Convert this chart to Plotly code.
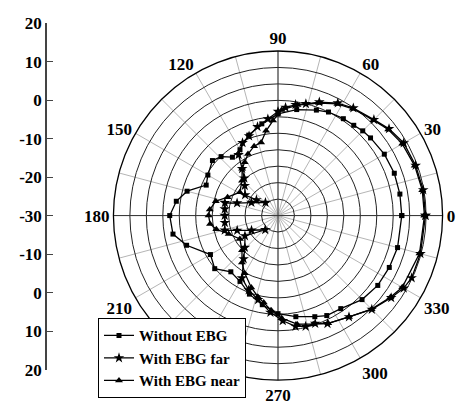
import plotly.graph_objects as go

# ---------------- data (angle in degrees, level in dB) ----------------
theta_without = [0, 10, 20, 30, 40, 45, 50, 56, 64, 70, 80, 90, 100, 110, 120, 128, 134, 140,
                 150, 157, 165, 172, 180, 190, 198, 210, 220, 230, 240, 250, 260, 270, 280,
                 290, 296, 304, 315, 325, 335, 345, 360]
r_without = [7.6, 7.6, 7.6, 7.3, 6.7, 6.4, 5.8, 5.5, 5.0, 4.1, 2.7, 0.9, -1.7, -4.0, -6.9, -7.5,
             -5.1, -4.0, -5.4, -6.3, -1.4, 1.2, 2.9, 2.4, -0.8, -6.3, -4.9, -7.7, -6.9, -4.6,
             -2.5, -0.2, 1.2, 2.7, 3.8, 4.1, 6.1, 7.0, 7.3, 7.6, 7.6]

theta_far = [0, 10, 20, 30, 38, 45, 55, 62, 70, 76, 81, 86, 90, 96, 103, 110, 116, 123, 127.5,
             132, 138, 148, 144, 134, 154, 163, 166.5, 173, 180, 187.6, 195.5, 200, 209, 228,
             211.6, 224, 231.6, 240, 248.5, 256.7, 265.5, 272.6, 279, 284, 289, 294.6, 305,
             315, 324, 330, 335, 345, 360]
r_far = [14.8, 14.8, 14.5, 14.1, 12.8, 11.2, 9.9, 8.7, 6.7, 5.0, 4.1, 2.9, 1.6, -0.5, -2.3,
         -4.3, -5.4, -8.0, -12.1, -14.7, -16.4, -18.2, -21.9, -24.5, -21.0, -17.0, -13.4,
         -13.7, -13.8, -13.7, -13.2, -16.8, -20.8, -24.2, -18.2, -16.0, -13.2, -8.1, -5.7,
         -3.7, -0.5, 2.0, 4.1, 4.7, 4.7, 6.1, 7.6, 10.3, 12.5, 14.1, 14.8, 14.8, 14.8]

theta_near = [0, 10, 20, 30, 38, 45, 55, 62, 70, 80, 88, 93, 98, 103, 109, 116, 122, 127.5,
              136, 148.5, 160, 167, 175, 180, 187, 192.5, 200.5, 211.5, 224, 232.5, 240,
              249.6, 256, 260.7, 266, 272, 280, 288, 295, 305, 315, 324, 330, 345, 360]
r_near = [14.5, 14.5, 14.2, 13.6, 12.5, 11.0, 9.6, 8.4, 6.4, 4.1, 2.1, -1.1, -4.0, -7.2, -7.7,
          -9.2, -10.9, -12.1, -14.8, -16.4, -13.7, -10.6, -9.2, -8.9, -9.2, -10.8, -14.0,
          -16.4, -14.8, -12.0, -9.8, -6.7, -4.6, -3.2, -1.1, 1.2, 3.5, 4.7, 6.1, 7.6, 10.2,
          12.2, 13.6, 14.5, 14.5]

series_names = ["Without EBG", "With EBG far", "With EBG near"]

# the 240 label is hidden behind the legend in the original
angle_labels = ["0", "30", "60", "90", "120", "150", "180", "210", "", "270", "300", "330"]
left_tick_labels = ["20", "10", "0", "-10", "-20", "-30", "-10", "0", "10", "20"]  # top -> bottom

r_min, r_max, r_step = -30, 20, 5

# ---------------- figure ----------------
FONT = "Liberation Serif"
fig = go.Figure()

# cross lines through the centre (0-180 and 90-270)
for a in (0, 90):
    fig.add_trace(go.Scatterpolar(
        theta=[a, a, a + 180], r=[r_max, r_min, r_max], mode="lines",
        line=dict(color="#333", width=1), showlegend=False, hoverinfo="skip"))

styles = [
    dict(symbol="square", size=5),
    dict(symbol="star", size=8),
    dict(symbol="triangle-up", size=7),
]
for name, th, rr, mk in zip(series_names,
                             [theta_without, theta_far, theta_near],
                             [r_without, r_far, r_near], styles):
    fig.add_trace(go.Scatterpolar(
        theta=th, r=rr, name=name, mode="lines+markers",
        line=dict(color="black", width=1.3),
        marker=dict(color="black", **mk)))

# left decorative dB axis
pos = list(range(len(left_tick_labels)))
fig.add_trace(go.Scatter(x=[None], y=[None], xaxis="x", yaxis="y",
                         showlegend=False, hoverinfo="skip"))

ang_vals = list(range(0, 360, 15))
ang_text = [angle_labels[v // 30] if v % 30 == 0 else "" for v in ang_vals]

fig.update_layout(
    width=471, height=414,
    margin=dict(l=0, r=0, t=0, b=0),
    paper_bgcolor="white", plot_bgcolor="white",
    font=dict(family=FONT, color="black"),
    polar=dict(
        domain=dict(x=[0.224, 0.9565], y=[0.0604, 0.8937]),
        bgcolor="white",
        radialaxis=dict(range=[r_min, r_max], dtick=r_step, tick0=r_min,
                        showticklabels=False, ticks="", showline=False,
                        gridcolor="#222", gridwidth=1),
        angularaxis=dict(rotation=0, direction="counterclockwise",
                         tickmode="array", tickvals=ang_vals, ticktext=ang_text,
                         ticks="", showline=True, linecolor="black", linewidth=1.3,
                         gridcolor="#b5b5b5", gridwidth=1,
                         tickfont=dict(family=FONT, size=17, color="black",
                                       weight="bold")),
    ),
    xaxis=dict(domain=[47 / 471, 52 / 471], visible=False, range=[0, 1]),
    yaxis=dict(domain=[1 - 378 / 414, 1 - 15 / 414], anchor="x",
               range=[0, len(pos) - 1], autorange=False,
               tickmode="array", tickvals=pos, ticktext=left_tick_labels[::-1],
               showline=True, linecolor="#444", linewidth=1.5,
               ticks="inside", ticklen=6, tickcolor="#444", tickwidth=1.2,
               showgrid=False, zeroline=False,
               tickfont=dict(family=FONT, size=17, color="black", weight="bold")),
    showlegend=True,
    legend=dict(x=98 / 471, y=1 - 324 / 414, xanchor="left", yanchor="top",
                bgcolor="white", bordercolor="black", borderwidth=1,
                font=dict(family=FONT, size=15, color="black", weight="bold"),
                tracegroupgap=0, itemwidth=30),
)

fig.write_html("out.html")
